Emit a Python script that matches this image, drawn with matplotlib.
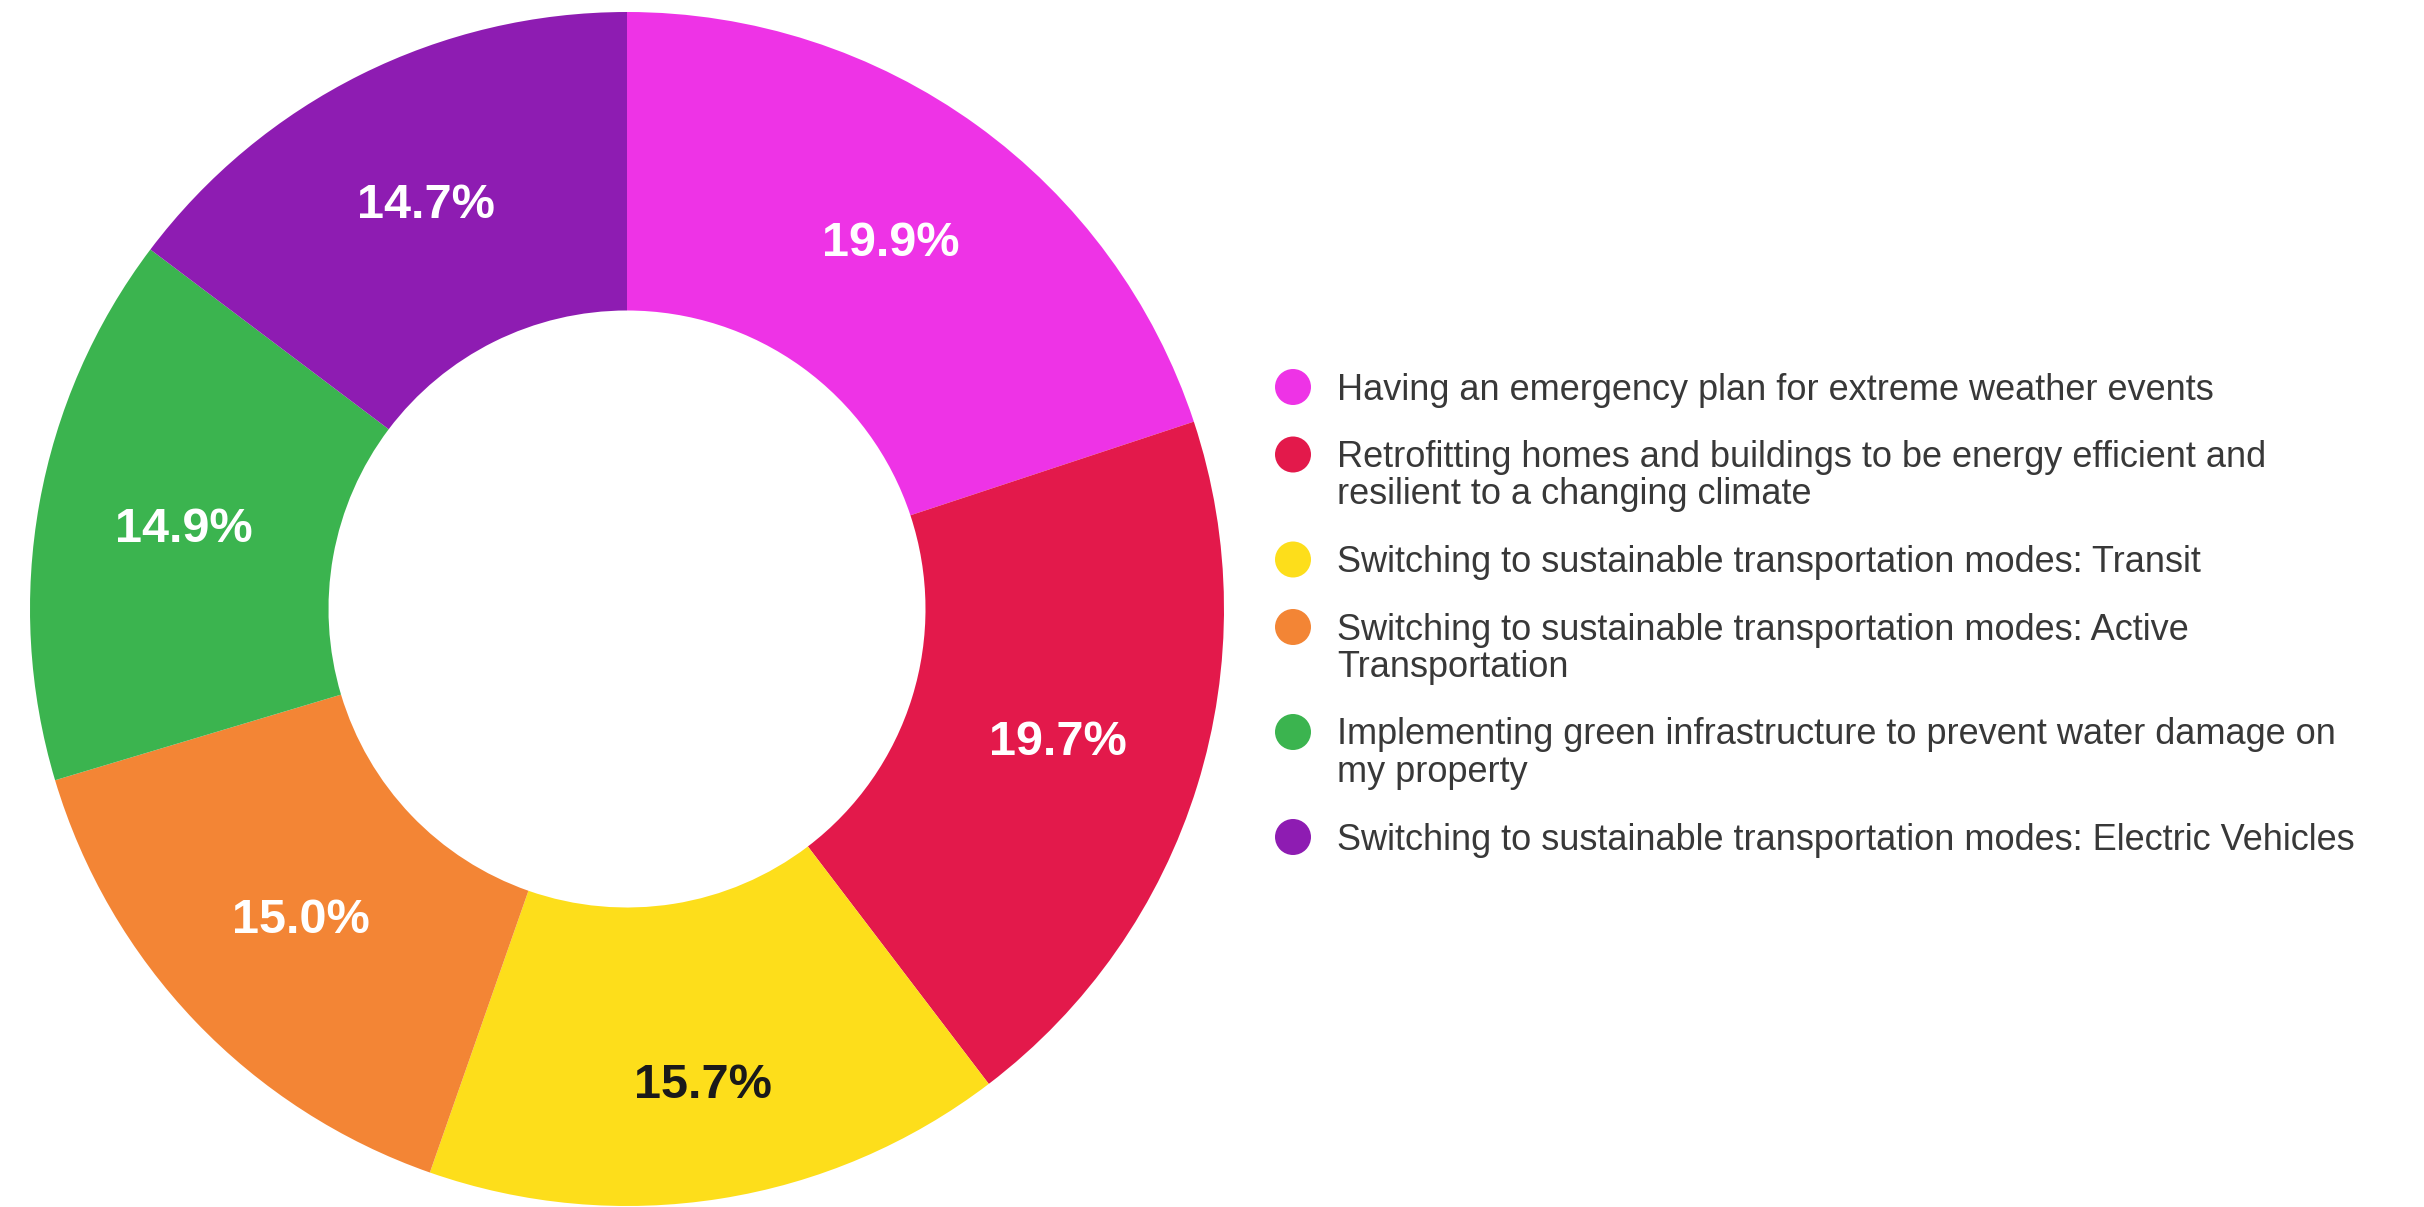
import matplotlib
matplotlib.use("Agg")
import matplotlib.pyplot as plt

# Share of respondents by climate action
categories = [
    "Having an emergency plan for extreme weather events",
    "Retrofitting homes and buildings to be energy efficient and\nresilient to a changing climate",
    "Switching to sustainable transportation modes: Transit",
    "Switching to sustainable transportation modes: Active\nTransportation",
    "Implementing green infrastructure to prevent water damage on\nmy property",
    "Switching to sustainable transportation modes: Electric Vehicles",
]
shares = [19.9, 19.7, 15.7, 15.0, 14.9, 14.7]
colors = ["#EE33E6", "#E3194B", "#FDDE1B", "#F38535", "#3BB44F", "#8E1CB2"]
label_colors = ["white", "white", "#1a1a1a", "white", "white", "white"]

W, H, DPI = 2424, 1207, 100
plt.rcParams["font.family"] = ["Liberation Sans", "DejaVu Sans"]

fig = plt.figure(figsize=(W / DPI, H / DPI), dpi=DPI, facecolor="white")

# Donut axes: centre and radius in pixels
cx, cy, R = 627, 609, 597
ax = fig.add_axes([(cx - R) / W, (H - cy - R) / H, 2 * R / W, 2 * R / H])
total = sum(shares)
wedges, _, autotexts = ax.pie(
    shares,
    colors=colors,
    startangle=90,
    counterclock=False,
    radius=1.0,
    wedgeprops=dict(width=0.5, linewidth=0, edgecolor="none"),
    autopct=lambda p: f"{p * total / 100:.1f}%",
    pctdistance=0.755,
    textprops=dict(fontsize=35, fontweight="bold"),
)
for t, c in zip(autotexts, label_colors):
    t.set_color(c)
# the dark label on the yellow slice sits a little further out
x, y = autotexts[2].get_position()
autotexts[2].set_position((x * 1.07, y * 1.07))
ax.set_xlim(-1, 1)
ax.set_ylim(-1, 1)
ax.set_aspect("equal")
ax.axis("off")

# Legend drawn in pixel coordinates
lg = fig.add_axes([0, 0, 1, 1])
lg.set_xlim(0, W)
lg.set_ylim(H, 0)
lg.axis("off")
marker_x, text_x = 1293, 1337
y = 387
line_h, gap = 37.5, 30
for label, col in zip(categories, colors):
    lg.scatter([marker_x], [y], s=(36 * 72 / DPI) ** 2, color=col, edgecolors="none", zorder=3)
    lines = label.split("\n")
    for i, line in enumerate(lines):
        lg.text(text_x, y + 12.5 + i * line_h, line, fontsize=26, color="#383838",
                ha="left", va="baseline")
    y += len(lines) * line_h + gap

fig.savefig("out.png", dpi=DPI, facecolor="white")
